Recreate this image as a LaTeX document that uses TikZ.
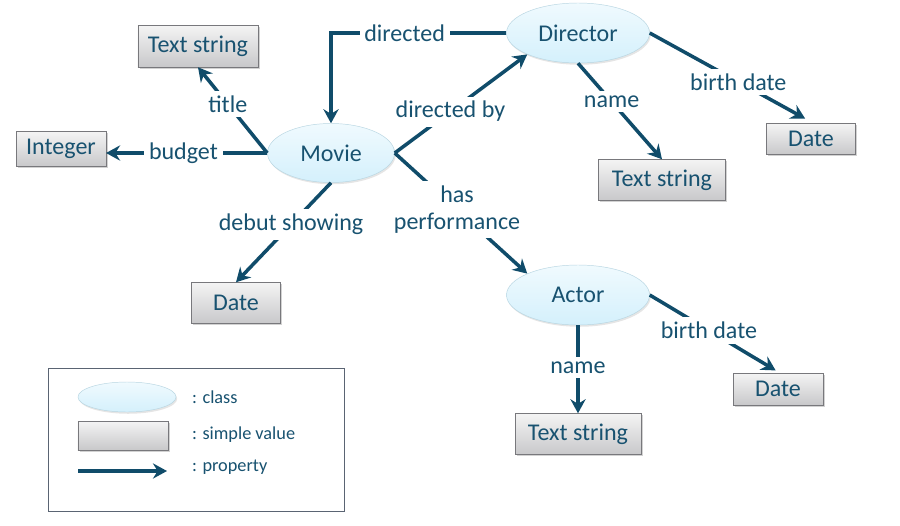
\documentclass[tikz,border=0pt]{standalone}
\usepackage{fontspec}
\setmainfont{Carlito}
\usepackage{tikz}
\usetikzlibrary{shapes.geometric,arrows.meta,shadows}

\definecolor{propblue}{RGB}{16,76,106}
\definecolor{textblue}{RGB}{24,82,112}
\definecolor{clstop}{RGB}{240,250,254}
\definecolor{clsbot}{RGB}{212,240,252}
\definecolor{clsedge}{RGB}{184,214,226}
\definecolor{valtop}{RGB}{244,244,244}
\definecolor{valbot}{RGB}{200,200,202}
\definecolor{valedge}{RGB}{120,120,124}
\definecolor{legedge}{RGB}{90,100,115}

\begin{document}
\begin{tikzpicture}[
    x=0.03cm, y=-0.03cm,
    font=\fontsize{20.5}{23}\selectfont, text=textblue,
    cls/.style={ellipse, draw=clsedge, top color=clstop, bottom color=clsbot,
                minimum width=4.29cm, minimum height=1.8cm,
                drop shadow={shadow xshift=1pt, shadow yshift=-1.5pt, opacity=.2}},
    val/.style={rectangle, draw=valedge, top color=valtop, bottom color=valbot,
                minimum height=1.23cm, inner xsep=0.3cm,
                drop shadow={shadow xshift=1.5pt, shadow yshift=-1.5pt, opacity=.35}},
    lbl/.style={fill=white, inner sep=4pt, align=center},
    legtext/.style={anchor=west, font=\fontsize{15.6}{18}\selectfont},
    line/.style={draw=propblue, line width=3pt,
                 -{Stealth[length=12pt, width=13pt, inset=4pt]}}
]
    \fill [white] (0,0) rectangle (900,525);

    % classes
    \node [cls, minimum width=3.81cm, minimum height=1.77cm] (movie) at (331,153) {Movie};
    \node [cls] (director) at (578,33)  {Director};
    \node [cls] (actor)    at (578,295) {Actor};

    % simple values
    \node [val, minimum width=3.57cm, minimum height=1.26cm] (title) at (198,46) {Text string};
    \node [val, minimum width=2.58cm, minimum height=1.05cm] (budget) at (61,149) {Integer};
    \node [val, minimum width=2.67cm] (debut)    at (236,303) {Date};
    \node [val, minimum width=3.81cm] (dirname)  at (662,180) {Text string};
    \node [val, minimum width=2.67cm, minimum height=0.93cm] (dirbirth) at (811,139) {Date};
    \node [val, minimum width=3.78cm] (actname)  at (578,434) {Text string};
    \node [val, minimum width=2.7cm, minimum height=0.96cm] (actbirth) at (778,389) {Date};

    % properties
    \path [line] (director.west) -| node [lbl, pos=0.29] {directed} (movie.north);
    \path [line] (movie.west) -- node [lbl, pos=0.57] {title} (title.south);
    \path [line] (movie.west) -- node [lbl, pos=0.52] {budget} (movie.west -| budget.east);
    \path [line] (movie.east) -- node [lbl, pos=0.42] {directed by} (director.south west);
    \path [line] (movie.east) -- node [lbl, pos=0.47] {has\\performance} (actor.north west);
    \path [line] (movie.south) -- node [lbl, pos=0.42] {debut showing} (debut.north);
    \path [line] (director.south) -- node [lbl, pos=0.4] {name} (dirname.north);
    \path [line] (director.east) -- node [lbl, pos=0.57] {birth date} ([xshift=-5pt, yshift=4pt]dirbirth.north);
    \path [line] (actor.south) -- node [lbl, pos=0.48] {name} (actname.north);
    \path [line] (actor.east) -- node [lbl, pos=0.47] {birth date} ([xshift=-2pt, yshift=2pt]actbirth.north);

    % legend
    \node [draw=legedge, thick, minimum width=8.88cm, minimum height=4.29cm] (legend) at (196,439.5) {};
    \node [cls, minimum width=2.94cm, minimum height=0.9cm] (legcls) at (127,397) {};
    \node [val, minimum width=2.7cm, minimum height=0.87cm] (legval) at (123,435.5) {};
    \coordinate (legfrom) at (78,471);
    \coordinate (legto)   at (167,471);
    \path [line] (legfrom) -- (legto);
    \node [legtext] at (188,397) {: class};
    \node [legtext] at (188,435) {: simple value};
    \node [legtext] at (188,467) {: property};
\end{tikzpicture}
\end{document}
